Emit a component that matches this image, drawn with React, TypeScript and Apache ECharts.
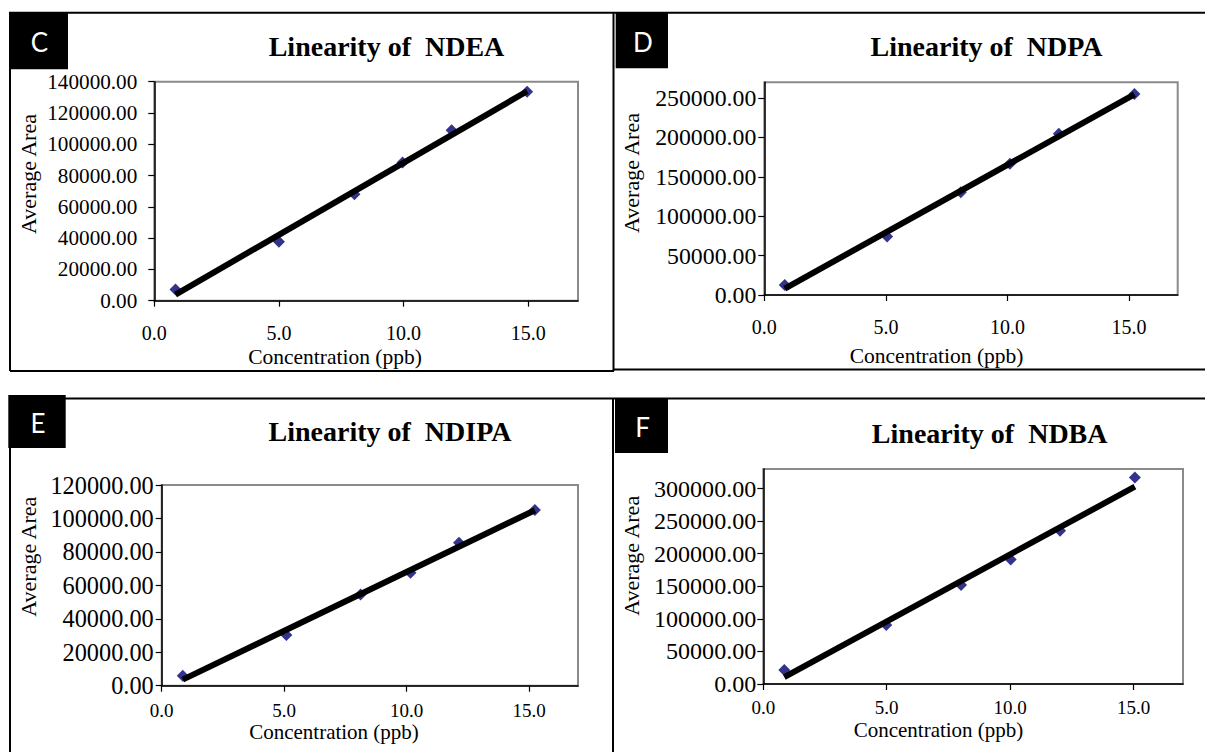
import React, { useEffect, useRef } from "react";
import * as echarts from "echarts";

// ---------- data ----------
const panelLetters = ["C", "D", "E", "F"];
const compounds = ["NDEA", "NDPA", "NDIPA", "NDBA"];

const concC = [0.85, 5, 8.03, 9.96, 11.93, 14.96];
const areaC = [7200, 37700, 68000, 88400, 109000, 133500];

const concD = [0.84, 5.05, 8.08, 10.1, 12.11, 15.22];
const areaD = [12700, 74200, 130500, 166500, 204700, 255000];

const concE = [0.86, 5.09, 8.12, 10.16, 12.14, 15.24];
const areaE = [6000, 30300, 54600, 67600, 85500, 105100];

const concF = [0.85, 4.98, 8.01, 10.02, 12.02, 15.05];
const areaF = [21500, 90500, 151800, 191200, 235200, 317000];

const xTicks = [0, 5, 10, 15];
const yTicksC = [0, 20000, 40000, 60000, 80000, 100000, 120000, 140000];
const yTicksD = [0, 50000, 100000, 150000, 200000, 250000];
const yTicksE = [0, 20000, 40000, 60000, 80000, 100000, 120000];
const yTicksF = [0, 50000, 100000, 150000, 200000, 250000, 300000];

const xMax = 17;
const yMaxC = 140000;
const yMaxD = 270000;
const yMaxE = 120000;
const yMaxF = 330000;

const xName = "Concentration (ppb)";
const yName = "Average Area";

// ---------- layout ----------
const layouts = [
  { left: 154.3, top: 81.7, width: 423.7, height: 219, yFont: 21.2, yMargin: 17, xMargin: 22, xFont: 20, nameFont: 21.5,
    title: [386.5, 46], yNamePos: [28.5, 174], xNamePos: [335, 357],
    box: [9, 12.7, 59, 56.5] },
  { left: 764.3, top: 82.3, width: 413.4, height: 212.7, yFont: 23.8, yMargin: 8, xMargin: 22, xFont: 20, nameFont: 21.5,
    title: [986.5, 46], yNamePos: [631.6, 173], xNamePos: [936.6, 355.6],
    box: [615.7, 12.7, 52.3, 55.6] },
  { left: 161.7, top: 485, width: 416.3, height: 200.7, yFont: 24.3, yMargin: 8, xMargin: 15, xFont: 19, nameFont: 21,
    title: [390, 431.7], yNamePos: [28.7, 556.7], xNamePos: [334, 731.5],
    box: [8.3, 395, 57.4, 53] },
  { left: 763.3, top: 469, width: 419.7, height: 215, yFont: 24.1, yMargin: 7, xMargin: 13.5, xFont: 19, nameFont: 21,
    title: [989.7, 433], yNamePos: [631.6, 555.8], xNamePos: [938.5, 729.5],
    box: [615, 399, 53, 54] },
];

const SERIF = "'Liberation Serif', 'Times New Roman', serif";

function fit(xs: number[], ys: number[]) {
  const n = xs.length;
  const mx = xs.reduce((a, b) => a + b, 0) / n;
  const my = ys.reduce((a, b) => a + b, 0) / n;
  let sxx = 0, sxy = 0;
  for (let i = 0; i < n; i++) {
    sxx += (xs[i] - mx) * (xs[i] - mx);
    sxy += (xs[i] - mx) * (ys[i] - my);
  }
  const slope = sxy / sxx;
  const b = my - slope * mx;
  const x0 = Math.min(...xs), x1 = Math.max(...xs);
  return [[x0, slope * x0 + b], [x1, slope * x1 + b]];
}

export default function App() {
  const ref = useRef<HTMLDivElement>(null);

  useEffect(() => {
    if (!ref.current) return;
    const chart = echarts.init(ref.current, undefined, { renderer: "svg" });

    const concs = [concC, concD, concE, concF];
    const areas = [areaC, areaD, areaE, areaF];
    const yTicks = [yTicksC, yTicksD, yTicksE, yTicksF];
    const yMaxes = [yMaxC, yMaxD, yMaxE, yMaxF];

    const grid = layouts.map((l) => ({
      left: l.left, top: l.top, width: l.width, height: l.height,
      show: true, borderColor: "#8a8a8a", borderWidth: 2, backgroundColor: "transparent",
    }));

    const xAxis = layouts.map((l, i) => ({
      type: "value", gridIndex: i, min: 0, max: xMax,
      axisLine: { show: true, onZero: false, lineStyle: { color: "#000", width: 1.5 } },
      axisTick: { show: true, length: 6, customValues: xTicks, lineStyle: { color: "#000", width: 1.2 } },
      axisLabel: {
        customValues: xTicks, formatter: (v: number) => v.toFixed(1),
        fontFamily: SERIF, fontSize: l.xFont, color: "#000", margin: l.xMargin,
      },
      splitLine: { show: false },
    }));

    const yAxis = layouts.map((l, i) => ({
      type: "value", gridIndex: i, min: 0, max: yMaxes[i],
      axisLine: { show: true, onZero: false, lineStyle: { color: "#000", width: 1.5 } },
      axisTick: { show: true, length: 6, customValues: yTicks[i], lineStyle: { color: "#000", width: 1.2 } },
      axisLabel: {
        customValues: yTicks[i], formatter: (v: number) => v.toFixed(2),
        fontFamily: SERIF, fontSize: l.yFont, color: "#000", margin: l.yMargin,
      },
      splitLine: { show: false },
    }));

    const series: any[] = [];
    concs.forEach((xs, i) => {
      series.push({
        type: "scatter", xAxisIndex: i, yAxisIndex: i,
        data: xs.map((x, j) => [x, areas[i][j]]),
        symbol: "diamond", symbolSize: 12,
        itemStyle: { color: "#000070" }, z: 2,
      });
      series.push({
        type: "line", xAxisIndex: i, yAxisIndex: i,
        data: fit(xs, areas[i]), symbol: "none",
        lineStyle: { color: "#000", width: 6 }, z: 3,
      });
    });

    const line = (x1: number, y1: number, x2: number, y2: number) => ({
      type: "line", shape: { x1, y1, x2, y2 }, style: { stroke: "#000", lineWidth: 2 }, silent: true,
    });

    const graphic: any[] = [
      // panel C frame
      line(9, 12.7, 614, 12.7),
      line(10, 12.7, 10, 371),
      line(10, 371, 614, 371),
      line(613.5, 12.7, 613.5, 371),
      // panel D frame
      line(614, 12.7, 1205, 12.7),
      line(614, 369.5, 1205, 369.5),
      // panel E / F frame
      line(9, 398.5, 1205, 398.5),
      line(10, 398.5, 10, 752),
      line(613, 398.5, 613, 752),
    ];

    layouts.forEach((l, i) => {
      const [bx, by, bw, bh] = l.box;
      graphic.push({ type: "rect", shape: { x: bx, y: by, width: bw, height: bh }, style: { fill: "#000" }, z: 10 });
      graphic.push({
        type: "text", x: bx + bw / 2 + 1, y: by + bh / 2 + 1, z: 11,
        style: {
          text: panelLetters[i], fill: "#fff", fontFamily: "Lato, 'Noto Sans', sans-serif", fontSize: 26,
          align: "center", verticalAlign: "middle", textAlign: "center", textVerticalAlign: "middle",
        },
      });
      graphic.push({
        type: "text", x: l.title[0], y: l.title[1], z: 11,
        style: {
          text: "Linearity of  " + compounds[i], fill: "#000", fontFamily: SERIF, fontSize: 28, fontWeight: "bold",
          align: "center", verticalAlign: "middle", textAlign: "center", textVerticalAlign: "middle",
        },
      });
      graphic.push({
        type: "text", x: l.yNamePos[0], y: l.yNamePos[1], rotation: Math.PI / 2, z: 11,
        style: {
          text: yName, fill: "#000", fontFamily: SERIF, fontSize: 22,
          align: "center", verticalAlign: "middle", textAlign: "center", textVerticalAlign: "middle",
        },
      });
      graphic.push({
        type: "text", x: l.xNamePos[0], y: l.xNamePos[1], z: 11,
        style: {
          text: xName, fill: "#000", fontFamily: SERIF, fontSize: l.nameFont,
          align: "center", verticalAlign: "middle", textAlign: "center", textVerticalAlign: "middle",
        },
      });
    });

    chart.setOption({
      animation: false,
      backgroundColor: "#fff",
      grid, xAxis, yAxis, series, graphic,
    });

    return () => chart.dispose();
  }, []);

  return (
    <div
      ref={ref}
      style={{ position: "absolute", left: 0, top: 0, width: 1205, height: 752 }}
    />
  );
}
